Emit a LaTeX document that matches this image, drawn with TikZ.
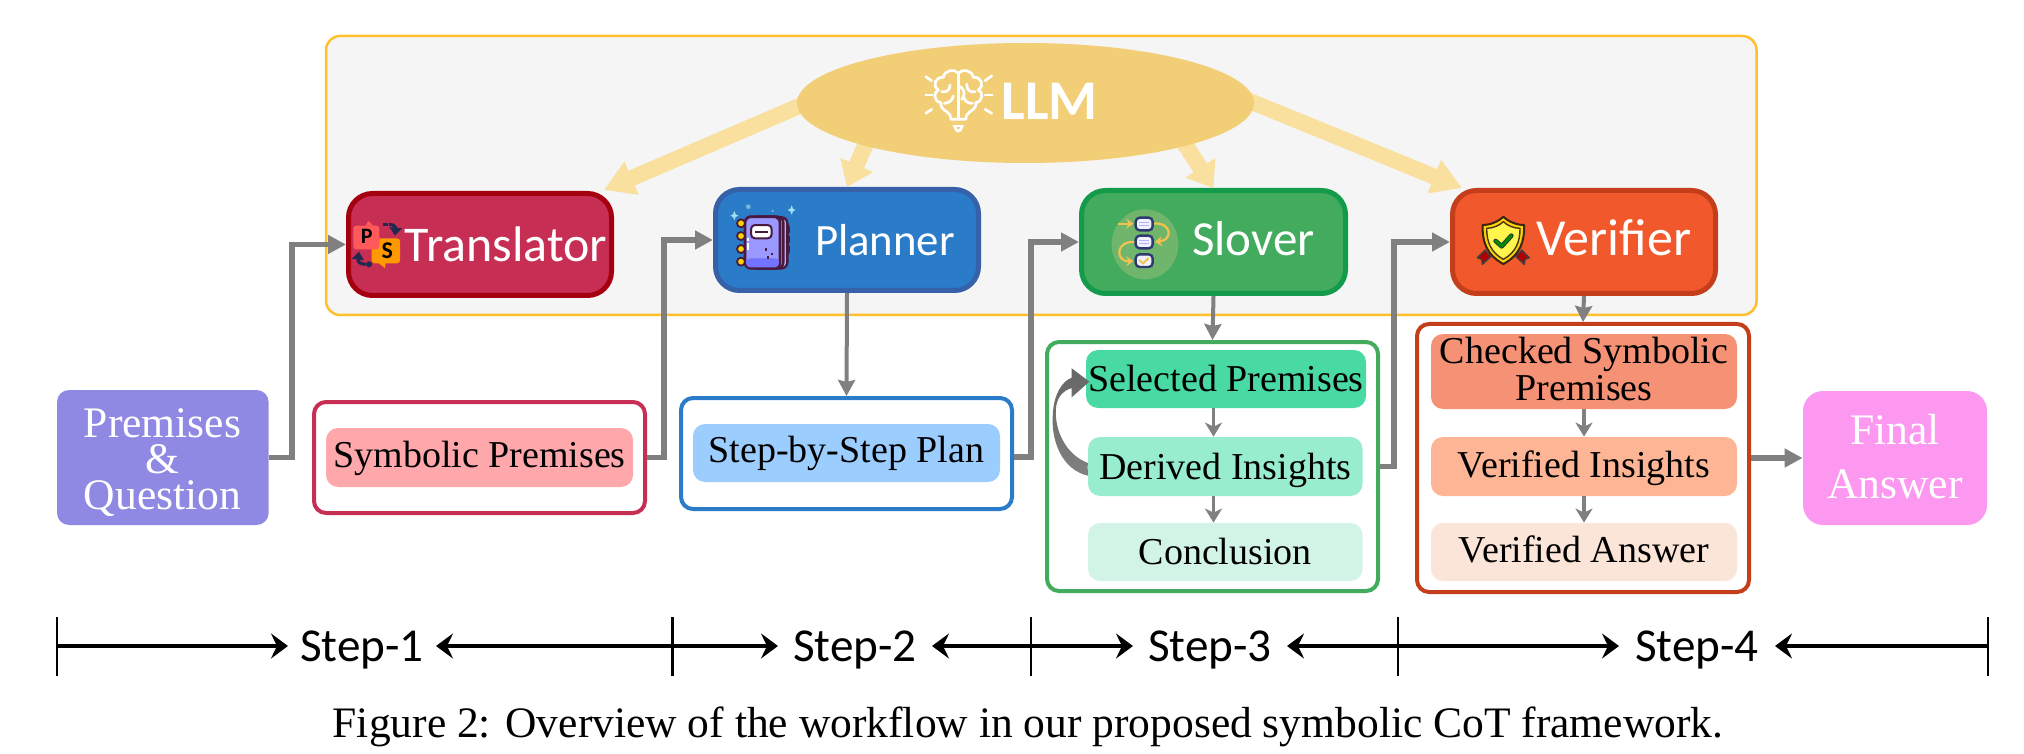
\documentclass[tikz,border=0pt]{standalone}
\usepackage{fontspec}
\setmainfont{Liberation Serif}
\newfontfamily\cf{Carlito}
\usetikzlibrary{arrows.meta,shapes.geometric,calc}
\definecolor{panelb}{HTML}{FFC02E}
\definecolor{panelf}{HTML}{F5F5F5}
\definecolor{llmc}{HTML}{F2CE76}
\definecolor{bigarr}{HTML}{FAE09E}
\definecolor{con}{HTML}{808080}
\definecolor{loopd}{HTML}{666666}
\definecolor{trf}{HTML}{C72E53}\definecolor{trb}{HTML}{A50010}
\definecolor{plf}{HTML}{2A7BC8}\definecolor{plb}{HTML}{3660A8}
\definecolor{slf}{HTML}{42AB5E}\definecolor{slb}{HTML}{139A4B}
\definecolor{vef}{HTML}{F1582C}\definecolor{veb}{HTML}{C43E1C}
\definecolor{premf}{HTML}{9089E4}\definecolor{finf}{HTML}{FC98F0}
\definecolor{symb}{HTML}{FFA8AC}\definecolor{stpb}{HTML}{9CCDFF}
\definecolor{selb}{HTML}{49D9A3}\definecolor{derb}{HTML}{98EDCF}\definecolor{conb}{HTML}{D2F4E7}
\definecolor{chkb}{HTML}{F59275}\definecolor{vinb}{HTML}{FDB595}\definecolor{vanb}{HTML}{FBE5D8}
\definecolor{navy}{HTML}{2F3A70}\definecolor{plum}{HTML}{4A1940}\definecolor{gold}{HTML}{F2C14E}
\definecolor{ltblue}{HTML}{9FE0F0}\definecolor{flowc}{HTML}{70B56C}
\pgfdeclarelayer{over}\pgfsetlayers{main,over}
\newcommand{\Bx}[7][]{%
  \pgfmathsetmacro\cxx{(#3+#5)/2}\pgfmathsetmacro\cyy{(#4+#6)/2}%
  \pgfmathsetmacro\www{(#5-#3)*0.5}\pgfmathsetmacro\hhh{(#6-#4)*0.5}%
  \node[inner sep=0pt,minimum width=\www pt,minimum height=\hhh pt,#1] (#2) at (\cxx,\cyy) {#7};}
\tikzset{
  agent/.style={rectangle,rounded corners=12pt,line width=2.5pt},
  agenttext/.style={font=\cf\fontsize{#1}{26}\selectfont,text=white,anchor=base,inner sep=0pt},
  outer/.style={rectangle,rounded corners=6pt,line width=2pt,fill=white},
  inner/.style={rectangle,rounded corners=6pt,font=\fontsize{19}{18.8}\selectfont,align=center},
  tb/.style={text height=#1,text depth=3pt},
  side/.style={rectangle,text=white,font=\fontsize{21.8}{18.2}\selectfont,align=center},
  bigarrow/.style={draw=bigarr,line width=8pt,shorten <=-8pt,-{Triangle[length=15pt,width=17pt]}},
  bigarrowb/.style={draw=bigarr,line width=8pt,shorten <=-8pt,-{Triangle[length=12pt,width=17pt]}},
  thick con/.style={draw=con,line width=2.6pt,-{Triangle[length=9pt,width=9pt]}},
  mid con/.style={draw=con,line width=2pt,-{Stealth[length=8pt,width=8.5pt,inset=1pt]}},
  small con/.style={draw=con,line width=1.8pt,-{Stealth[length=7pt,width=8.5pt,inset=2pt]}},
  tl/.style={draw=black,line width=1.6pt,-{Stealth[length=8.5pt,width=12.5pt,inset=3pt]}},
  tick/.style={draw=black,line width=1.1pt},
  steplbl/.style={font=\cf\fontsize{23.6}{26}\selectfont,inner sep=0pt,text height=17.5pt,text depth=2pt,outer sep=0pt},
  ray/.style={draw=white,line width=1.35pt,line cap=round,line join=round}
}
\begin{document}
\begin{tikzpicture}[x=0.5pt,y=-0.5pt]
\useasboundingbox (0,0) rectangle (2024,754);
% panel
\Bx[draw=panelb,fill=panelf,line width=1.25pt,rounded corners=7pt]{panel}{326}{36}{1756.5}{315}{}
% LLM
\begin{pgfonlayer}{over}
\node[ellipse,fill=llmc,inner sep=0pt,minimum width=228.5pt,minimum height=60pt] (llm) at (1025.5,103) {};
\node[font=\cf\bfseries\fontsize{28}{30}\selectfont,text=white,anchor=base west,inner sep=0pt] (llmtxt) at (1001,120) {LLM};
\begin{scope}[shift={(915,60)},x=0.1667pt,y=-0.1667pt]
\draw[ray] (108,178) -- (105,165) .. controls (95,150) and (75,150) .. (78,128) .. controls (55,125) and (55,95) .. (70,90) .. controls (50,75) and (62,50) .. (85,52) .. controls (88,30) and (120,25) .. (130,40) .. controls (140,25) and (172,30) .. (175,52) .. controls (198,50) and (210,75) .. (190,90) .. controls (205,95) and (205,125) .. (182,128) .. controls (185,150) and (165,150) .. (155,165) -- (152,178) -- cycle;
\draw[ray] (130,40) -- (130,172);
\draw[ray] (80,95) .. controls (95,98) and (105,90) .. (105,75);
\draw[ray] (88,130) .. controls (100,130) and (112,122) .. (115,108);
\draw[ray] (130,78) .. controls (150,85) and (152,105) .. (140,118);
\draw[ray] (180,95) .. controls (165,98) and (155,90) .. (155,72);
\draw[ray] (172,130) .. controls (160,130) and (150,125) .. (146,112);
\draw[ray] (116,198) -- (144,198);
\draw[ray] (120,200) .. controls (122,218) and (138,218) .. (140,200);
\draw[ray] (32,50) -- (50,62); \draw[ray] (32,105) -- (52,105); \draw[ray] (32,160) -- (50,148);
\draw[ray] (230,48) -- (210,62); \draw[ray] (232,105) -- (210,105); \draw[ray] (230,160) -- (210,148);
\end{scope}
\end{pgfonlayer}
% agents
\Bx[agent,draw=trb,fill=trf]{trans}{348.5}{193.5}{611.5}{295.5}{}
\Bx[agent,draw=plb,fill=plf]{plan}{715.5}{189.5}{978.5}{290.5}{}
\Bx[agent,draw=slb,fill=slf]{slov}{1081.5}{190.5}{1345.5}{293.5}{}
\Bx[agent,draw=veb,fill=vef]{veri}{1452.5}{190.5}{1715.5}{293.5}{}
\node[agenttext=25] (transtxt) at (506,262) {Translator};
\node[agenttext=22.4] (plantxt) at (885,256) {Planner};
\node[agenttext=24.5] (slovtxt) at (1253.5,256) {Slover};
\node[agenttext=26] (veritxt) at (1614,256) {Verifier};
% big arrows
\coordinate (tipT) at (604,190);
\coordinate (tipV) at (1462,188);
\draw[bigarrow] (llm.181) -- (tipT);
\draw[bigarrowb] (llm.195.6) -- (plan.north);
\draw[bigarrowb] (llm.-15.9) -- (slov.north);
\draw[bigarrow] (llm.east) -- (tipV);
% side boxes
\Bx[side,fill=premf,rounded corners=6pt]{prem}{57}{390}{268.6}{525}{}
\node[side] (premtxt) at (162.5,462.5) {Premises\\\&\\Question};
\Bx[side,fill=finf,rounded corners=10pt]{fin}{1803}{391}{1987}{525}{}
\node[side,font=\fontsize{21.8}{27}\selectfont] (fintxt) at (1895,457) {Final\\Answer};
% outputs
\Bx[outer,draw=trf]{symo}{314}{402}{645}{513}{}
\Bx[inner,fill=symb,tb=12.5pt]{sym}{326}{428}{633}{487}{Symbolic Premises}
\Bx[outer,draw=plf]{stpo}{681}{398}{1012}{509}{}
\Bx[inner,fill=stpb,tb=12pt]{stp}{693}{424}{1000}{482}{Step-by-Step Plan}
\Bx[outer,draw=slf]{selo}{1047}{342}{1378}{591}{}
\Bx[inner,fill=selb,tb=15.3pt]{sel}{1086}{350}{1366}{408}{Selected Premises}
\Bx[inner,fill=derb,tb=15.8pt]{der}{1088}{437}{1362.5}{496}{Derived Insights}
\Bx[inner,fill=conb,tb=15.3pt]{conc}{1088}{523}{1362.5}{581}{Conclusion}
\Bx[outer,draw=veb]{vero}{1417}{324}{1749}{592}{}
\Bx[inner,fill=chkb]{chk}{1431}{334}{1737}{409}{}
\node[inner,fill=none] (chktxt) at (1584,369) {Checked Symbolic\\Premises};
\Bx[inner,fill=vinb,tb=13.8pt]{vin}{1431}{437}{1737}{496}{Verified Insights}
\Bx[inner,fill=vanb,tb=13.3pt]{van}{1431}{523}{1737}{581}{Verified Answer}
% flow connectors
\draw[thick con] (prem.east) -- ++(23,0) |- (trans.west);
\draw[thick con] (symo.east) -- ++(17,0) |- (plan.west);
\draw[thick con] ([yshift=-1.75pt]stpo.east) -- ++(17,0) |- (slov.west);
\draw[thick con] (selo.east) -- ++(14,0) |- (veri.west);
\draw[thick con,line width=2.9pt] (vero.east) -- (fin.west);
\draw[mid con] (plan.south) -- (stpo.north);
\draw[mid con] (slov.south) -- (selo.north);
\draw[mid con] (veri.south) -- (vero.north);
\draw[small con] (sel.south -| slov.south) -- (der.north -| slov.south);
\draw[small con] (der.south -| slov.south) -- (conc.north -| slov.south);
\draw[small con] (chk.south) -- (vin.north);
\draw[small con] (vin.south) -- (van.north);
% loop arrow
\shade[top color=loopd,bottom color=con,draw=none] (1089.3,381.7) -- (1071.7,368.3) -- (1071.7,377.7) .. controls (1062,381) and (1054,395) .. (1053,412) .. controls (1050,440) and (1062,470) .. (1088,475.7) -- (der.west) -- (1088,463) .. controls (1066,455) and (1054,430) .. (1056,408) .. controls (1057,398) and (1062,391) .. (1071.7,388) -- (1071.7,397.3) -- cycle;
% PS icon
\begin{scope}[shift={(345,215)},x=0.1667pt,y=-0.1667pt]
\fill[fill=orange!80!yellow,rounded corners=1.5pt] (80,70) rectangle (165,145);
\fill[fill=orange!80!yellow] (100,143) -- (122,143) -- (120,160) -- cycle;
\fill[fill=red!65!white,rounded corners=1.5pt] (25,32) rectangle (103,103);
\fill[fill=red!65!white] (62,32) -- (85,32) -- (70,18) -- cycle;
\node[font=\cf\bfseries\fontsize{11}{12}\selectfont,inner sep=0pt] (pch) at (65,64) {P};
\node[font=\cf\bfseries\fontsize{12}{12}\selectfont,inner sep=0pt] (sch) at (127,107) {S};
\draw[navy!70!black,line width=1.6pt] (115,28) -- (128,28);
\draw[navy!70!black,line width=1.6pt,-{Triangle[length=4pt,width=6pt]}] (132,28) .. controls (150,28) and (152,40) .. (150,62);
\draw[navy!70!black,line width=1.6pt,-{Triangle[length=4pt,width=6pt]}] (62,148) .. controls (45,148) and (38,140) .. (42,110);
\fill[navy!70!black] (72,148) circle (1.5pt);
\end{scope}
% notebook icon
\begin{scope}[shift={(725,200)},x=0.1667pt,y=-0.1667pt]
\foreach \yy/\cc in {88/pink!70!red,118/yellow!80!orange,148/green!50!white}{\draw[plum,fill=\cc,line width=0.8pt,rounded corners=1pt] (172,\yy-13) rectangle (192,\yy+13);}
\draw[plum,fill=blue!30!white,line width=1.2pt,rounded corners=3pt] (80,52) rectangle (187,205);
\draw[plum,fill=blue!40!white,line width=1.2pt,rounded corners=3pt] (72,50) rectangle (175,205);
\draw[plum,fill=blue!40!white,line width=1.4pt,rounded corners=3pt] (60,50) rectangle (165,205);
\fill[blue!55!white,rounded corners=2pt] (63,175) rectangle (162,202);
\foreach \yy in {70,108,147,185}{\draw[plum,fill=yellow!70!orange,line width=0.9pt] (48,\yy) circle (2pt);}
\draw[plum,fill=white,line width=1pt,rounded corners=2pt] (78,75) rectangle (140,115);
\draw[plum,line width=1pt] (90,95) -- (128,95);
\fill[white] (65,113) rectangle (72,122);\fill[white] (65,128) rectangle (72,150);
\foreach \xx/\yy in {124/148,141/162,128/172}{\fill[plum] (\xx-3,\yy-4) rectangle (\xx+3,\yy+4);}
\foreach \xx/\yy in {28/47,200/30}{\fill[ltblue] (\xx,\yy-14) -- (\xx+4,\yy-4) -- (\xx+12,\yy) -- (\xx+4,\yy+4) -- (\xx,\yy+14) -- (\xx-4,\yy+4) -- (\xx-12,\yy) -- (\xx-4,\yy-4) -- cycle;}
\fill[ltblue!60!plf] (70,20) circle (1.2pt);
\fill[ltblue!60!plf] (143,33) circle (0.6pt);
\end{scope}
% flow icon
\begin{scope}[shift={(1105,205)},x=0.1667pt,y=-0.1667pt]
\fill[flowc] (120,118) ellipse (16.7pt and 17.5pt);
\tikzset{ya/.style={draw=gold,line width=1.1pt,-{Stealth[length=3.5pt,width=5pt]}}}
\draw[ya] (40,56) -- (85,56);
\draw[ya] (145,56) .. controls (200,50) and (205,105) .. (150,111);
\draw[ya] (92,111) .. controls (30,105) and (30,170) .. (85,168);
\foreach \yy in {38,92,148}{\draw[navy,fill=blue!6!white,line width=1.2pt,rounded corners=2pt] (92,\yy) rectangle (143,\yy+38);}
\foreach \yy in {38,92}{\draw[blue!30!white,line width=0.6pt] (103,\yy+14) -- (133,\yy+14);\draw[blue!30!white,line width=0.6pt] (103,\yy+24) -- (133,\yy+24);}
\draw[gold,line width=1pt,line cap=round] (104,166) -- (114,175) -- (130,160);
\end{scope}
% shield icon
\begin{scope}[shift={(1470,205)},x=0.1667pt,y=-0.1667pt]
\tikzset{rib/.style={draw=black!75,fill=red!70!black,line width=0.7pt,line join=round}}
\draw[rib] (45,135) -- (22,158) -- (35,163) -- (37,178) -- (62,155) -- cycle;
\draw[rib] (155,135) -- (178,158) -- (165,163) -- (163,178) -- (138,155) -- cycle;
\draw[black!70!brown,fill=yellow!70!orange,line width=1pt,line join=round] (100,35) .. controls (85,50) and (60,60) .. (38,60) .. controls (36,110) and (50,150) .. (100,177) .. controls (150,150) and (164,110) .. (162,60) .. controls (140,60) and (115,50) .. (100,35) -- cycle;
\draw[black!60!brown,fill=yellow!70!white,line width=0.7pt,line join=round] (100,50) .. controls (88,62) and (68,70) .. (50,70) .. controls (50,110) and (62,142) .. (100,163) .. controls (138,142) and (150,110) .. (150,70) .. controls (132,70) and (112,62) .. (100,50) -- cycle;
\draw[black!80,line width=2.3pt,line cap=round,line join=round] (77,108) -- (95,124) -- (124,92);
\draw[green!55!black,line width=1.4pt,line cap=round,line join=round] (77,108) -- (95,124) -- (124,92);
\end{scope}
% timeline
\coordinate (t0) at (57,646);\coordinate (t1) at (672.5,646);\coordinate (t2) at (1031,646);\coordinate (t3) at (1398,646);\coordinate (t4) at (1988,646);
\node[steplbl,minimum width=74pt] (s1) at (362,646) {Step-1};
\node[steplbl,minimum width=77pt] (s2) at (855,646) {Step-2};
\node[steplbl,minimum width=77pt] (s3) at (1210,646) {Step-3};
\node[steplbl,minimum width=78pt] (s4) at (1697,646) {Step-4};
\foreach \a/\b in {t0/s1,t1/s1,t1/s2,t2/s2,t2/s3,t3/s3,t3/s4,t4/s4}{\draw[tl] (\a) -- (\b);}
\foreach \a in {t0,t1,t2,t3,t4}{\draw[tick] ([yshift=14.5pt]\a) -- ([yshift=-15pt]\a);}
% caption
\node[anchor=base,inner sep=0pt,font=\fontsize{21.75}{24}\selectfont] (cap) at (1028,737) {Figure 2: Overview of the workflow in our proposed symbolic CoT framework.};
\end{tikzpicture}
\end{document}
